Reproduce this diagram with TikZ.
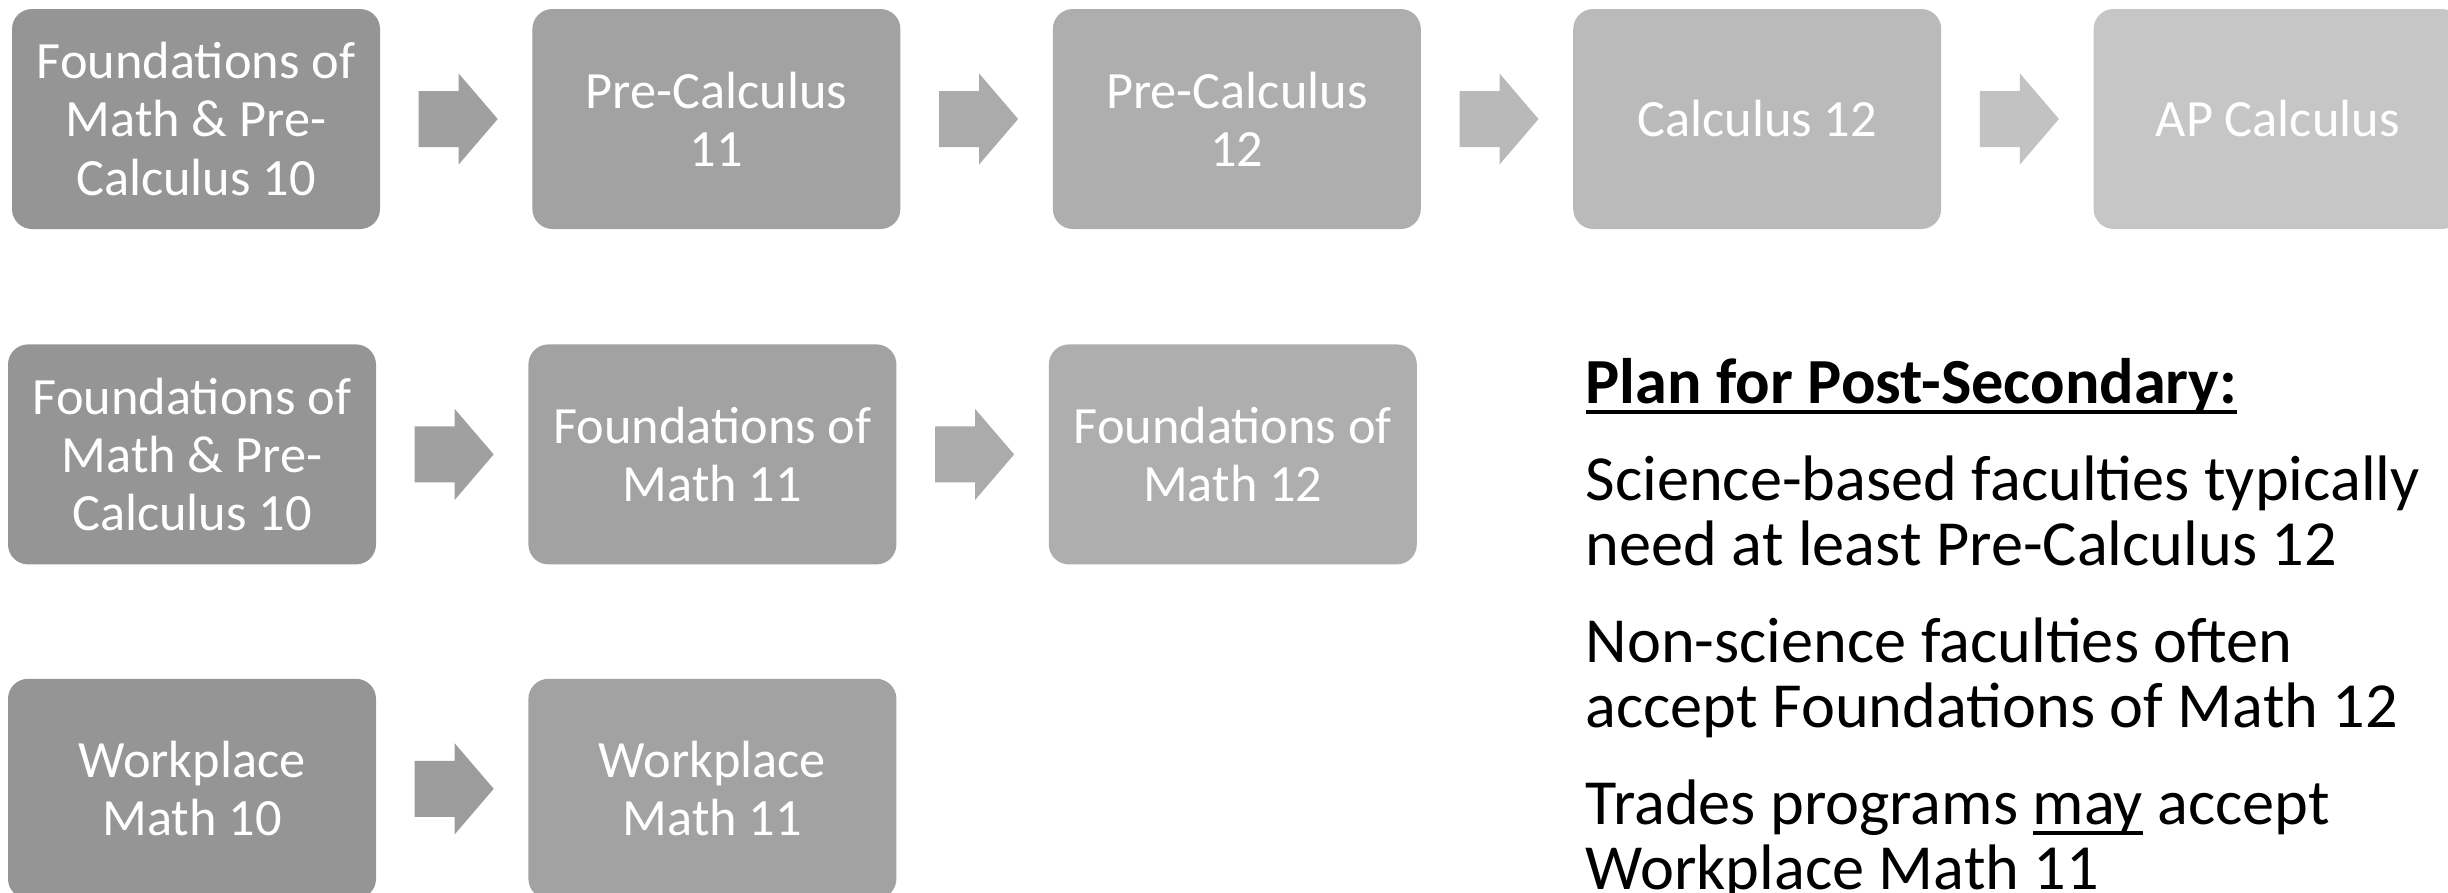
\documentclass[tikz,border=0pt]{standalone}
\usepackage{fontspec}
\setmainfont{Carlito}
\usetikzlibrary{positioning}
\definecolor{gA}{HTML}{959595}
\definecolor{gB}{HTML}{A2A2A2}
\definecolor{gC}{HTML}{AEAEAE}
\definecolor{gD}{HTML}{BABABA}
\definecolor{gE}{HTML}{C6C6C6}
\definecolor{aA}{HTML}{9C9C9C}
\definecolor{aB}{HTML}{A0A0A0}
\definecolor{aC}{HTML}{ABABAB}
\definecolor{aD}{HTML}{B9B9B9}
\definecolor{aE}{HTML}{C2C2C2}
\newcommand{\ulword}[1]{\setbox0=\hbox{#1}\rlap{\rule[-1.1mm]{\wd0}{0.45mm}}\box0\relax}
\tikzstyle{course} = [rectangle, rounded corners=2mm, minimum width=36.8mm, minimum height=22mm, inner sep=0pt, text=white, align=center, font=\fontsize{14.9pt}{16.6pt}\selectfont]
\tikzstyle{note} = [anchor=base west, inner sep=0pt, align=left, font=\fontsize{18.3pt}{18.4pt}\selectfont]
\tikzstyle{flow} = [to path={([xshift=3.8mm,yshift=2.8mm]\tikztostart.east) -- ++(4mm,0) -- ++(0,1.75mm) -- ++(3.9mm,-4.55mm) -- ++(-3.9mm,-4.55mm) -- ++(0,1.75mm) -- ++(-4mm,0) -- cycle}]

\begin{document}
\begin{tikzpicture}[node distance=15.1mm]
  \useasboundingbox (0,0) rectangle (244.8mm,-89.2mm);
  % calculus route
  \node (fpcA) [course, fill=gA] at (19.6mm,-11.9mm) {Foundations of\\Math \& Pre-\\Calculus 10};
  \node (pc11) [course, fill=gB, right=of fpcA] {Pre-Calculus\\11};
  \node (pc12) [course, fill=gC, right=of pc11] {Pre-Calculus\\12};
  \node (calc12) [course, fill=gD, right=of pc12] {Calculus 12};
  \node (apcalc) [course, fill=gE, right=of calc12] {AP Calculus};
  % foundations route
  \node (fpcB) [course, fill=gA, below=11.4mm of fpcA, xshift=-0.4mm] {Foundations of\\Math \& Pre-\\Calculus 10};
  \node (fom11) [course, fill=gB, right=of fpcB] {Foundations of\\Math 11};
  \node (fom12) [course, fill=gC, right=of fom11] {Foundations of\\Math 12};
  % workplace route
  \node (wm10) [course, fill=gA, below=11.3mm of fpcB] {Workplace\\Math 10};
  \node (wm11) [course, fill=gB, right=of wm10] {Workplace\\Math 11};
  \fill [flow, aB] (fpcA) to (pc11);
  \fill [flow, aC] (pc11) to (pc12);
  \fill [flow, aD] (pc12) to (calc12);
  \fill [flow, aE] (calc12) to (apcalc);
  \fill [flow, aB] (fpcB) to (fom11);
  \fill [flow, aC] (fom11) to (fom12);
  \fill [flow, aA] (wm10) to (wm11);
  % post-secondary notes (base = last line)
  \node (plan) [note, font=\fontsize{18.3pt}{18.4pt}\selectfont\bfseries] at (158.5mm,-40.3mm) {\ulword{Plan for Post-Secondary:}};
  \node (sci) [note] at ([yshift=-16.2mm]plan.base west) {Science-based faculties typically\\need at least Pre-Calculus 12};
  \node (nonsci) [note] at ([yshift=-16.2mm]sci.base west) {Non-science faculties often\\accept Foundations of Math 12};
  \node (trades) [note] at ([yshift=-16.2mm]nonsci.base west) {Trades programs \ulword{may} accept\\Workplace Math 11};
\end{tikzpicture}
\end{document}
